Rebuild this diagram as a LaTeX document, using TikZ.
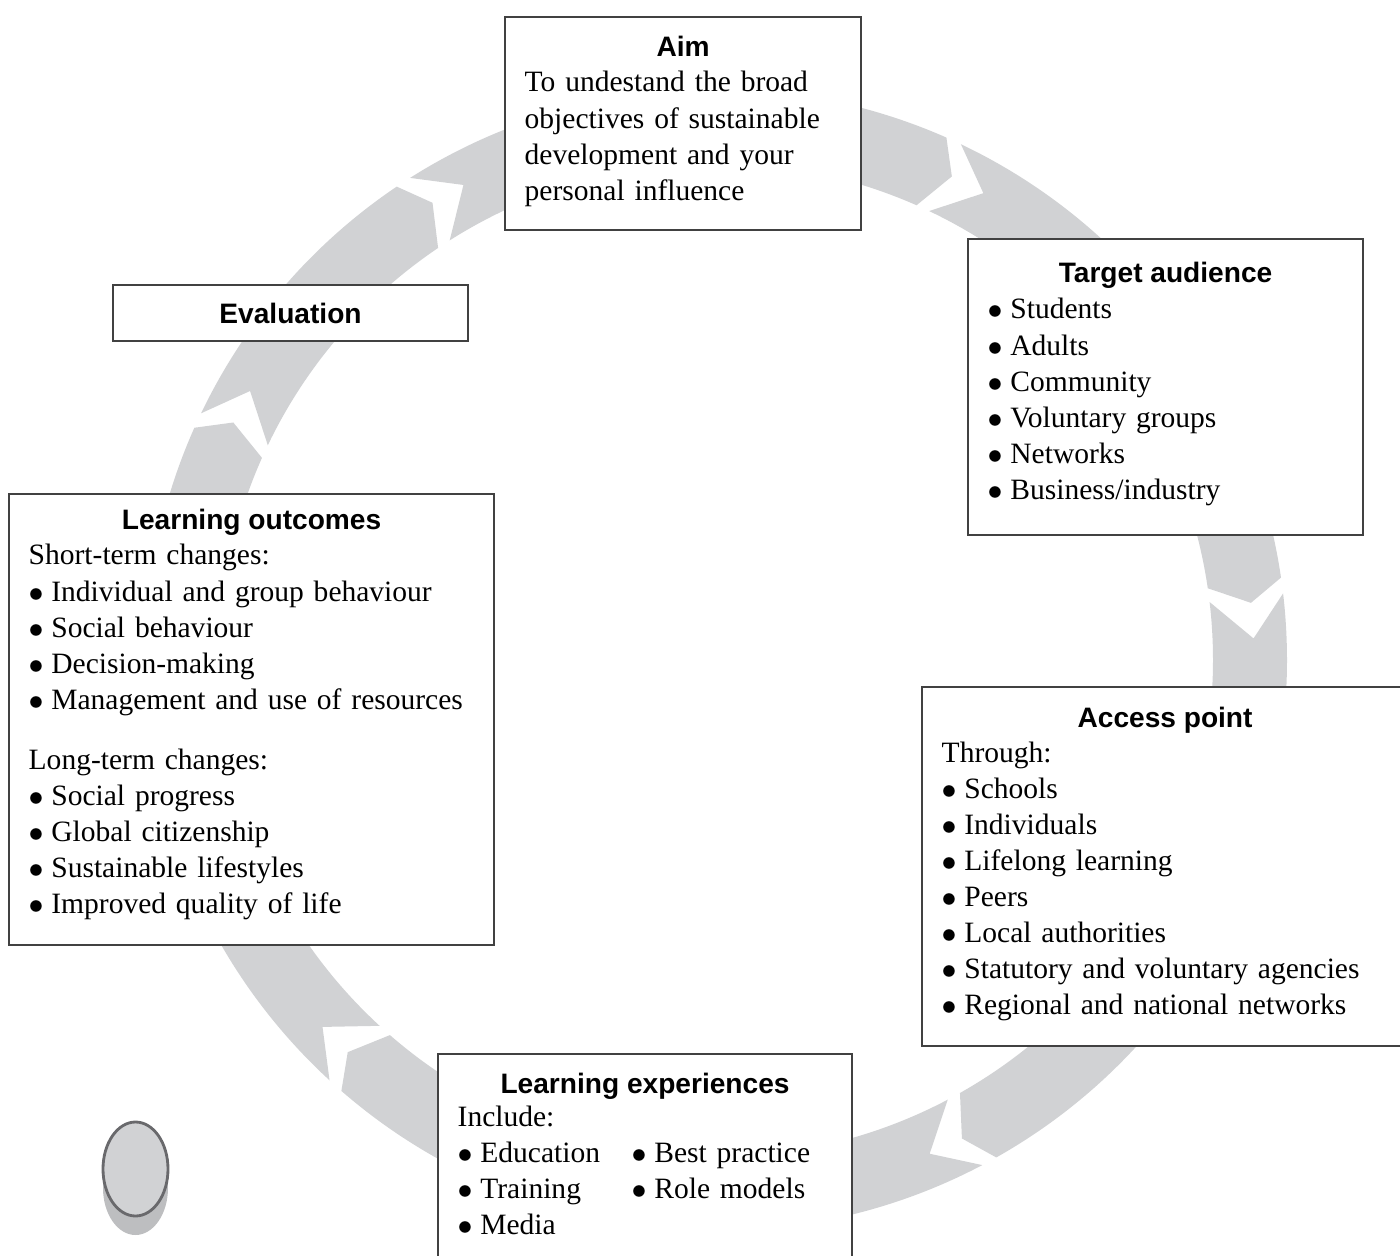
\documentclass[tikz,border=0pt]{standalone}
\usepackage{fontspec}
\setmainfont{Liberation Serif}
\newfontfamily\headfont{Liberation Sans}
\usetikzlibrary{calc,positioning}
\definecolor{ringgrey}{RGB}{209,210,212}
\definecolor{shadowgrey}{RGB}{189,190,192}
\definecolor{rimgrey}{RGB}{105,105,108}
\definecolor{boxline}{RGB}{65,65,65}
\newcommand{\bul}{$\bullet$\hspace{2.2pt}}

\begin{document}
\begin{tikzpicture}[
  box/.style={draw=boxline, line width=0.6pt, fill=white, anchor=north west, inner sep=0pt},
  head/.style={font=\headfont\bfseries\fontsize{8}{9.6}\selectfont, anchor=base, inner sep=0pt},
  body/.style={font=\fontsize{8.4}{10.25}\selectfont, anchor=base west, align=left, inner sep=0pt}]
  \useasboundingbox (0,0) rectangle (14,12.55);

  % ring of arrows, clockwise
  \begin{scope}[shift={(7.16,5.95)}]
    \foreach \a/\b in {156/124, 124/66.2, 66.2/8.3, 8.3/-60.6, -60.6/-131, -131/-204}
      \fill[ringgrey] ({\a-1.6}:5.71) arc[start angle=\a-1.6, end angle=\b, radius=5.71]
        -- ({\b-2.2}:5.38) -- (\b:4.97) arc[start angle=\b, end angle=\a-1.6, radius=4.97]
        -- ({\a-6}:5.38) -- cycle;
  \end{scope}

  \node[box, minimum width=3.56cm, minimum height=2.13cm] (aim) at (5.04,12.39) {};
  \node[head] (aimhd) at ($(aim.north)+(0,-0.41)$) {Aim};
  \node[body, text width=3.4cm] (aimtxt) at ($(aim.north west)+(0.20,-0.76)$)
    {To undestand the broad\\objectives of sustainable\\development and your\\personal influence};

  \node[box, minimum width=3.55cm, minimum height=0.56cm] (eval) at (1.12,9.71) {};
  \node[head, anchor=center] (evalhd) at (eval.center) {Evaluation};

  \node[box, minimum width=3.95cm, minimum height=2.96cm] (target) at (9.67,10.17) {};
  \node[head] (targethd) at ($(target.north)+(0,-0.45)$) {Target audience};
  \node[body, text width=3.6cm] (targettxt) at ($(target.north west)+(0.20,-0.81)$)
    {\bul Students\\\bul Adults\\\bul Community\\\bul Voluntary groups\\\bul Networks\\\bul Business/industry};

  \node[box, minimum width=4.85cm, minimum height=4.51cm] (outcomes) at (0.08,7.62) {};
  \node[head] (outcomeshd) at ($(outcomes.north)+(0,-0.37)$) {Learning outcomes};
  \node[body, text width=4.6cm] (outcomestxt) at ($(outcomes.north west)+(0.20,-0.72)$)
    {Short-term changes:\\\bul Individual and group behaviour\\\bul Social behaviour\\\bul Decision-making\\
     \bul Management and use of resources\\[6.8pt]Long-term changes:\\\bul Social progress\\
     \bul Global citizenship\\\bul Sustainable lifestyles\\\bul Improved quality of life};

  \node[box, minimum width=4.86cm, minimum height=3.59cm] (access) at (9.21,5.69) {};
  \node[head] (accesshd) at ($(access.north)+(0,-0.42)$) {Access point};
  \node[body, text width=4.6cm] (accesstxt) at ($(access.north west)+(0.20,-0.76)$)
    {Through:\\\bul Schools\\\bul Individuals\\\bul Lifelong learning\\\bul Peers\\\bul Local authorities\\
     \bul Statutory and voluntary agencies\\\bul Regional and national networks};

  \node[box, minimum width=4.14cm, minimum height=2.3cm] (exper) at (4.37,2.02) {};
  \node[head] (experhd) at ($(exper.north)+(0,-0.40)$) {Learning experiences};
  \node[body, text width=3.9cm] (expertxt) at ($(exper.north west)+(0.20,-0.73)$)
    {Include:\\\makebox[1.74cm][l]{\bul Education}\bul Best practice\\
     \makebox[1.74cm][l]{\bul Training}\bul Role models\\\bul Media};

  % token in the corner
  \fill[shadowgrey] (1.355,0.67) ellipse (0.325cm and 0.47cm);
  \draw[rimgrey, fill=ringgrey, line width=0.8pt] (1.355,0.86) ellipse (0.325cm and 0.47cm);
\end{tikzpicture}
\end{document}
